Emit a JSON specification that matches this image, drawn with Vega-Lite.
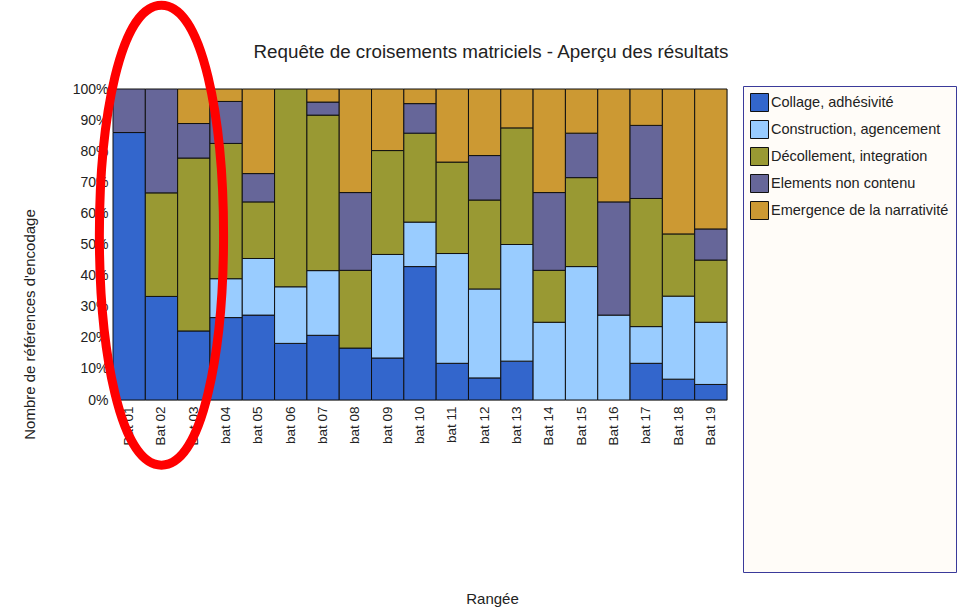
{
  "$schema": "https://vega.github.io/schema/vega-lite/v6.json",
  "width": 614,
  "height": 311,
  "autosize": "none",
  "padding": {"left": 113, "top": 89, "right": 237, "bottom": 216},
  "background": "#ffffff",
  "config": {
    "font": "Liberation Sans",
    "view": {"stroke": "#d0d0d0", "strokeWidth": 1}
  },
  "title": {
    "text": "Requête de croisements matriciels - Aperçu des résultats",
    "fontSize": 18.8,
    "fontWeight": "normal",
    "color": "#222222",
    "anchor": "middle",
    "dx": 71,
    "offset": 22,
    "dy": 97
  },
  "resolve": {"axis": {"x": "independent", "y": "independent"}},
  "datasets": {
    "main": [
      {"bat": "Bat 01", "cat": "Collage, adhésivité", "v": 86},
      {"bat": "Bat 01", "cat": "Elements non contenu", "v": 14},
      {"bat": "Bat 02", "cat": "Collage, adhésivité", "v": 33.3},
      {"bat": "Bat 02", "cat": "Décollement, integration", "v": 33.3},
      {"bat": "Bat 02", "cat": "Elements non contenu", "v": 33.4},
      {"bat": "Bat 03", "cat": "Collage, adhésivité", "v": 22.2},
      {"bat": "Bat 03", "cat": "Décollement, integration", "v": 55.6},
      {"bat": "Bat 03", "cat": "Elements non contenu", "v": 11.1},
      {"bat": "Bat 03", "cat": "Emergence de la narrativité", "v": 11.1},
      {"bat": "bat 04", "cat": "Collage, adhésivité", "v": 26.5},
      {"bat": "bat 04", "cat": "Construction, agencement", "v": 12.5},
      {"bat": "bat 04", "cat": "Décollement, integration", "v": 43.5},
      {"bat": "bat 04", "cat": "Elements non contenu", "v": 13.5},
      {"bat": "bat 04", "cat": "Emergence de la narrativité", "v": 4},
      {"bat": "bat 05", "cat": "Collage, adhésivité", "v": 27.3},
      {"bat": "bat 05", "cat": "Construction, agencement", "v": 18.2},
      {"bat": "bat 05", "cat": "Décollement, integration", "v": 18.2},
      {"bat": "bat 05", "cat": "Elements non contenu", "v": 9.1},
      {"bat": "bat 05", "cat": "Emergence de la narrativité", "v": 27.2},
      {"bat": "bat 06", "cat": "Collage, adhésivité", "v": 18.2},
      {"bat": "bat 06", "cat": "Construction, agencement", "v": 18.2},
      {"bat": "bat 06", "cat": "Décollement, integration", "v": 63.6},
      {"bat": "bat 07", "cat": "Collage, adhésivité", "v": 20.8},
      {"bat": "bat 07", "cat": "Construction, agencement", "v": 20.8},
      {"bat": "bat 07", "cat": "Décollement, integration", "v": 50},
      {"bat": "bat 07", "cat": "Elements non contenu", "v": 4.2},
      {"bat": "bat 07", "cat": "Emergence de la narrativité", "v": 4.2},
      {"bat": "bat 08", "cat": "Collage, adhésivité", "v": 16.7},
      {"bat": "bat 08", "cat": "Décollement, integration", "v": 25},
      {"bat": "bat 08", "cat": "Elements non contenu", "v": 25},
      {"bat": "bat 08", "cat": "Emergence de la narrativité", "v": 33.3},
      {"bat": "bat 09", "cat": "Collage, adhésivité", "v": 13.5},
      {"bat": "bat 09", "cat": "Construction, agencement", "v": 33.3},
      {"bat": "bat 09", "cat": "Décollement, integration", "v": 33.4},
      {"bat": "bat 09", "cat": "Emergence de la narrativité", "v": 19.8},
      {"bat": "bat 10", "cat": "Collage, adhésivité", "v": 42.9},
      {"bat": "bat 10", "cat": "Construction, agencement", "v": 14.3},
      {"bat": "bat 10", "cat": "Décollement, integration", "v": 28.6},
      {"bat": "bat 10", "cat": "Elements non contenu", "v": 9.5},
      {"bat": "bat 10", "cat": "Emergence de la narrativité", "v": 4.7},
      {"bat": "bat 11", "cat": "Collage, adhésivité", "v": 11.8},
      {"bat": "bat 11", "cat": "Construction, agencement", "v": 35.3},
      {"bat": "bat 11", "cat": "Décollement, integration", "v": 29.4},
      {"bat": "bat 11", "cat": "Emergence de la narrativité", "v": 23.5},
      {"bat": "bat 12", "cat": "Collage, adhésivité", "v": 7.1},
      {"bat": "bat 12", "cat": "Construction, agencement", "v": 28.6},
      {"bat": "bat 12", "cat": "Décollement, integration", "v": 28.6},
      {"bat": "bat 12", "cat": "Elements non contenu", "v": 14.3},
      {"bat": "bat 12", "cat": "Emergence de la narrativité", "v": 21.4},
      {"bat": "bat 13", "cat": "Collage, adhésivité", "v": 12.5},
      {"bat": "bat 13", "cat": "Construction, agencement", "v": 37.5},
      {"bat": "bat 13", "cat": "Décollement, integration", "v": 37.5},
      {"bat": "bat 13", "cat": "Emergence de la narrativité", "v": 12.5},
      {"bat": "Bat 14", "cat": "Construction, agencement", "v": 25},
      {"bat": "Bat 14", "cat": "Décollement, integration", "v": 16.7},
      {"bat": "Bat 14", "cat": "Elements non contenu", "v": 25},
      {"bat": "Bat 14", "cat": "Emergence de la narrativité", "v": 33.3},
      {"bat": "Bat 15", "cat": "Construction, agencement", "v": 42.9},
      {"bat": "Bat 15", "cat": "Décollement, integration", "v": 28.6},
      {"bat": "Bat 15", "cat": "Elements non contenu", "v": 14.3},
      {"bat": "Bat 15", "cat": "Emergence de la narrativité", "v": 14.2},
      {"bat": "Bat 16", "cat": "Construction, agencement", "v": 27.3},
      {"bat": "Bat 16", "cat": "Elements non contenu", "v": 36.4},
      {"bat": "Bat 16", "cat": "Emergence de la narrativité", "v": 36.3},
      {"bat": "bat 17", "cat": "Collage, adhésivité", "v": 11.8},
      {"bat": "bat 17", "cat": "Construction, agencement", "v": 11.8},
      {"bat": "bat 17", "cat": "Décollement, integration", "v": 41.2},
      {"bat": "bat 17", "cat": "Elements non contenu", "v": 23.5},
      {"bat": "bat 17", "cat": "Emergence de la narrativité", "v": 11.7},
      {"bat": "Bat 18", "cat": "Collage, adhésivité", "v": 6.7},
      {"bat": "Bat 18", "cat": "Construction, agencement", "v": 26.7},
      {"bat": "Bat 18", "cat": "Décollement, integration", "v": 20},
      {"bat": "Bat 18", "cat": "Emergence de la narrativité", "v": 46.6},
      {"bat": "Bat 19", "cat": "Collage, adhésivité", "v": 5},
      {"bat": "Bat 19", "cat": "Construction, agencement", "v": 20},
      {"bat": "Bat 19", "cat": "Décollement, integration", "v": 20},
      {"bat": "Bat 19", "cat": "Elements non contenu", "v": 10},
      {"bat": "Bat 19", "cat": "Emergence de la narrativité", "v": 45}
    ],
    "mark": [
      {"bat": "Bat 02", "y": 0.53}
    ]
  },
  "layer": [
    {
      "data": {"name": "main"},
      "mark": {"type": "bar", "stroke": "#111111", "strokeWidth": 1},
      "encoding": {
        "x": {
          "field": "bat",
          "type": "nominal",
          "sort": null,
          "scale": {"paddingInner": 0, "paddingOuter": 0},
          "axis": {
            "title": "Rangée",
            "titleFontSize": 15,
            "titleFontWeight": "normal",
            "titleColor": "#222222",
            "titleX": 379,
            "titleY": 198,
            "titleAlign": "center",
            "titleBaseline": "middle",
            "labelAngle": -90,
            "labelAlign": "right",
            "labelBaseline": "middle",
            "labelFontSize": 13.5,
            "labelColor": "#222222",
            "labelPadding": 6,
            "ticks": false,
            "domain": false
          }
        },
        "y": {
          "field": "v",
          "type": "quantitative",
          "aggregate": "sum",
          "stack": "normalize",
          "scale": {"domain": [0, 1]},
          "axis": {
            "title": "Nombre de références d'encodage",
            "titleFontSize": 15,
            "titleFontWeight": "normal",
            "titleColor": "#222222",
            "titleAngle": -90,
            "titleX": -84,
            "titleY": 235,
            "titleAlign": "center",
            "titleBaseline": "middle",
            "values": [0, 0.1, 0.2, 0.3, 0.4, 0.5, 0.6, 0.7, 0.8, 0.9, 1],
            "format": ".0%",
            "labelOverlap": false,
            "labelFontSize": 14,
            "labelColor": "#222222",
            "labelPadding": 5,
            "ticks": false,
            "domain": false,
            "grid": false
          }
        },
        "order": {"field": "cat", "type": "nominal", "sort": "ascending"},
        "color": {
          "field": "cat",
          "type": "nominal",
          "scale": {
            "domain": ["Collage, adhésivité", "Construction, agencement", "Décollement, integration", "Elements non contenu", "Emergence de la narrativité"],
            "range": ["#3366cc", "#99ccff", "#999933", "#666699", "#cc9933"]
          },
          "legend": {
            "title": " ",
            "titleOrient": "bottom",
            "titleFontSize": 1,
            "titlePadding": 342,
            "orient": "none",
            "legendX": 630,
            "legendY": -3,
            "padding": 7,
            "fillColor": "#fffcf8",
            "strokeColor": "#3a3a9a",
            "symbolType": "square",
            "symbolSize": 324,
            "symbolStrokeColor": "#111111",
            "symbolStrokeWidth": 1,
            "symbolOpacity": 1,
            "rowPadding": 4,
            "labelFontSize": 14.5,
            "labelColor": "#222222",
            "labelOffset": 2,
            "labelLimit": 300
          }
        }
      }
    },
    {
      "data": {"name": "mark"},
      "mark": {
        "type": "point",
        "shape": "M0,-1 C0.36,-1 0.36,1 0,1 C-0.36,1 -0.36,-1 0,-1 Z",
        "size": 211600,
        "filled": false,
        "stroke": "#ff0000",
        "strokeWidth": 9,
        "opacity": 1
      },
      "encoding": {
        "x": {"field": "bat", "type": "nominal", "sort": null, "axis": null},
        "y": {"field": "y", "type": "quantitative", "axis": null}
      }
    }
  ]
}
